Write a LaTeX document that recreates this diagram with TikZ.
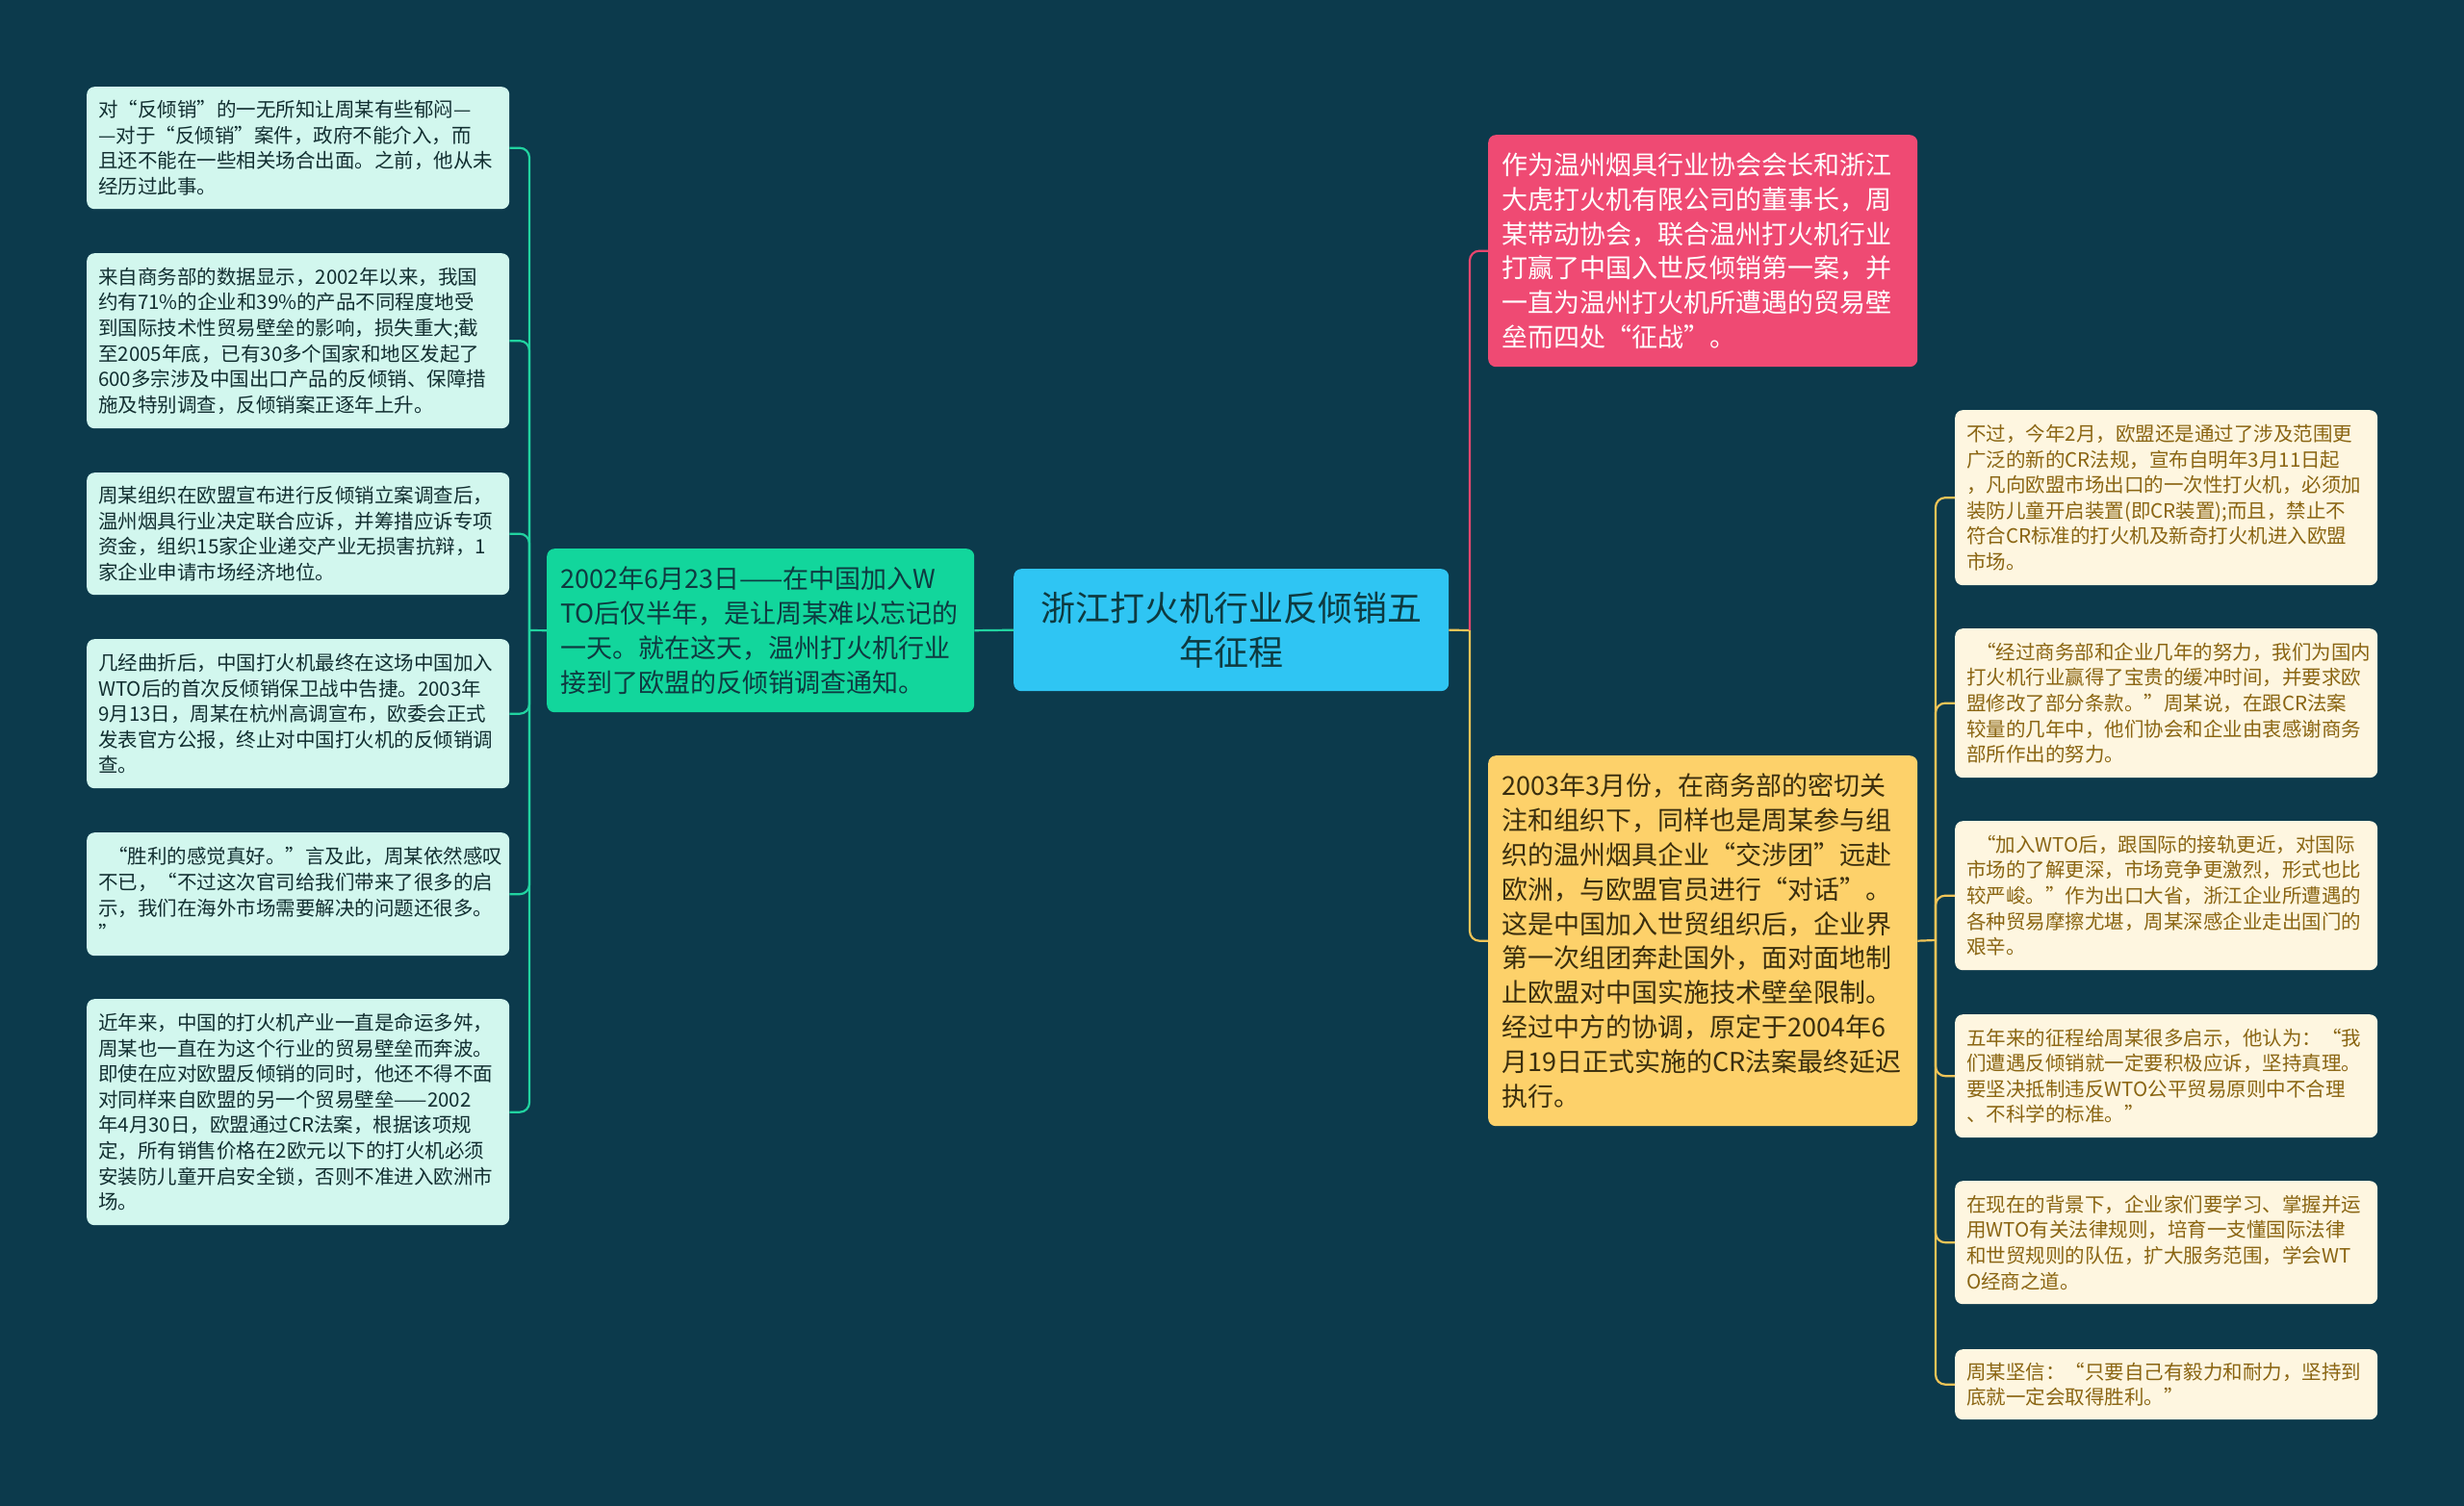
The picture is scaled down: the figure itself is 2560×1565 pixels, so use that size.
\documentclass[tikz,border=0pt]{standalone}
\usepackage{fontspec}
\setmainfont{Noto Sans CJK SC}
\definecolor{bg}{HTML}{0C3A4C}
\definecolor{cgreen}{HTML}{12D69C}
\definecolor{cblue}{HTML}{2FC5F3}
\definecolor{cpink}{HTML}{EF4A73}
\definecolor{cyellow}{HTML}{FDD16A}
\definecolor{lgreen}{HTML}{D2F7EE}
\definecolor{lcream}{HTML}{FEF6E0}
\definecolor{tdark}{HTML}{122F31}
\definecolor{tmid}{HTML}{0E3A40}
\definecolor{tyel}{HTML}{3A2E0E}
\definecolor{tgold}{HTML}{8A6512}
\definecolor{lineg}{HTML}{21D3A0}
\definecolor{linep}{HTML}{E8466E}
\definecolor{liney}{HTML}{F0C457}
\tikzset{
  box/.style={rounded corners=8pt, inner xsep=12pt, inner ysep=6pt, anchor=north west, align=left},
  leafL/.style={box, fill=lgreen, text=tdark, font=\fontsize{20.5}{26.6}\selectfont, text width=415pt},
  leafR/.style={box, fill=lcream, text=tgold, font=\fontsize{20.5}{26.6}\selectfont, text width=415pt},
  midbox/.style={box, inner xsep=14pt, font=\fontsize{27}{35.8}\selectfont, text width=418pt},
  conn/.style={line width=2.2pt, rounded corners=10pt},
}
\begin{document}
\begin{tikzpicture}[x=1pt,y=-1pt]
\useasboundingbox (0,0) rectangle (2560,1565);
\fill[bg] (0,0) rectangle (2560,1565);

% center
\node[box, fill=cblue, text=tmid, align=center, inner xsep=14pt, text width=424pt, minimum height=127pt, font=\fontsize{36}{46}\selectfont] (c) at (1053,591) {浙江打火机行业反倾销五\\年征程};

% green
\node[midbox, fill=cgreen, text=tmid, text width=416pt, minimum height=170pt] (g) at (568,570) {2002年6月23日——在中国加入W\\TO后仅半年，是让周某难以忘记的\\一天。就在这天，温州打火机行业\\接到了欧盟的反倾销调查通知。};

% pink
\node[midbox, fill=cpink, text=white, minimum height=241pt] (p) at (1546,140) {作为温州烟具行业协会会长和浙江\\大虎打火机有限公司的董事长，周\\某带动协会，联合温州打火机行业\\打赢了中国入世反倾销第一案，并\\一直为温州打火机所遭遇的贸易壁\\垒而四处“征战”。};

% yellow
\node[midbox, fill=cyellow, text=tyel, minimum height=385pt] (y) at (1546,785) {2003年3月份，在商务部的密切关\\注和组织下，同样也是周某参与组\\织的温州烟具企业“交涉团”远赴\\欧洲，与欧盟官员进行“对话”。\\这是中国加入世贸组织后，企业界\\第一次组团奔赴国外，面对面地制\\止欧盟对中国实施技术壁垒限制。\\经过中方的协调，原定于2004年6\\月19日正式实施的CR法案最终延迟\\执行。};

% left leaves
\node[leafL, minimum height=127pt] (l1) at (90,90) {对“反倾销”的一无所知让周某有些郁闷—\\—对于“反倾销”案件，政府不能介入，而\\且还不能在一些相关场合出面。之前，他从未\\经历过此事。};
\node[leafL, minimum height=182pt] (l2) at (90,263) {来自商务部的数据显示，2002年以来，我国\\约有71\%的企业和39\%的产品不同程度地受\\到国际技术性贸易壁垒的影响，损失重大;截\\至2005年底，已有30多个国家和地区发起了\\600多宗涉及中国出口产品的反倾销、保障措\\施及特别调查，反倾销案正逐年上升。};
\node[leafL, minimum height=127pt] (l3) at (90,491) {周某组织在欧盟宣布进行反倾销立案调查后，\\温州烟具行业决定联合应诉，并筹措应诉专项\\资金，组织15家企业递交产业无损害抗辩，1\\家企业申请市场经济地位。};
\node[leafL, minimum height=155pt] (l4) at (90,664) {几经曲折后，中国打火机最终在这场中国加入\\WTO后的首次反倾销保卫战中告捷。2003年\\9月13日，周某在杭州高调宣布，欧委会正式\\发表官方公报，终止对中国打火机的反倾销调\\查。};
\node[leafL, minimum height=128pt] (l5) at (90,865) {\hspace*{0.5em}“胜利的感觉真好。”言及此，周某依然感叹\\不已，“不过这次官司给我们带来了很多的启\\示，我们在海外市场需要解决的问题还很多。\\”};
\node[leafL, minimum height=235pt] (l6) at (90,1038) {近年来，中国的打火机产业一直是命运多舛，\\周某也一直在为这个行业的贸易壁垒而奔波。\\即使在应对欧盟反倾销的同时，他还不得不面\\对同样来自欧盟的另一个贸易壁垒——2002\\年4月30日，欧盟通过CR法案，根据该项规\\定，所有销售价格在2欧元以下的打火机必须\\安装防儿童开启安全锁，否则不准进入欧洲市\\场。};

% right leaves
\node[leafR, minimum height=182pt] (r1) at (2031,426) {不过，今年2月，欧盟还是通过了涉及范围更\\广泛的新的CR法规，宣布自明年3月11日起\\，凡向欧盟市场出口的一次性打火机，必须加\\装防儿童开启装置(即CR装置);而且，禁止不\\符合CR标准的打火机及新奇打火机进入欧盟\\市场。};
\node[leafR, minimum height=155pt] (r2) at (2031,653) {\hspace*{0.5em}“经过商务部和企业几年的努力，我们为国内\\打火机行业赢得了宝贵的缓冲时间，并要求欧\\盟修改了部分条款。”周某说，在跟CR法案\\较量的几年中，他们协会和企业由衷感谢商务\\部所作出的努力。};
\node[leafR, minimum height=155pt] (r3) at (2031,853) {\hspace*{0.5em}“加入WTO后，跟国际的接轨更近，对国际\\市场的了解更深，市场竞争更激烈，形式也比\\较严峻。”作为出口大省，浙江企业所遭遇的\\各种贸易摩擦尤堪，周某深感企业走出国门的\\艰辛。};
\node[leafR, minimum height=128pt] (r4) at (2031,1054) {五年来的征程给周某很多启示，他认为：“我\\们遭遇反倾销就一定要积极应诉，坚持真理。\\要坚决抵制违反WTO公平贸易原则中不合理\\、不科学的标准。”};
\node[leafR, minimum height=128pt] (r5) at (2031,1227) {在现在的背景下，企业家们要学习、掌握并运\\用WTO有关法律规则，培育一支懂国际法律\\和世贸规则的队伍，扩大服务范围，学会WT\\O经商之道。};
\node[leafR, minimum height=73pt] (r6) at (2031,1402) {周某坚信：“只要自己有毅力和耐力，坚持到\\底就一定会取得胜利。”};

% connectors
\coordinate (lj) at (550,655);
\draw[conn, lineg] (c.west) -- (g.east);
\draw[conn, lineg] (g.west) -- (lj);
\foreach \n in {l1,l2,l3,l4,l5,l6}
  \draw[conn, lineg] (lj) |- (\n.east);
\coordinate (rj) at (1527,655);
\draw[conn, liney] (c.east) -- (rj);
\draw[conn, linep] (rj) |- (p.west);
\draw[conn, liney] (rj) |- (y.west);
\coordinate (yj) at (2011,977);
\draw[conn, liney] (y.east) -- (yj);
\foreach \n in {r1,r2,r3,r4,r5,r6}
  \draw[conn, liney] (yj) |- (\n.west);
\end{tikzpicture}
\end{document}
